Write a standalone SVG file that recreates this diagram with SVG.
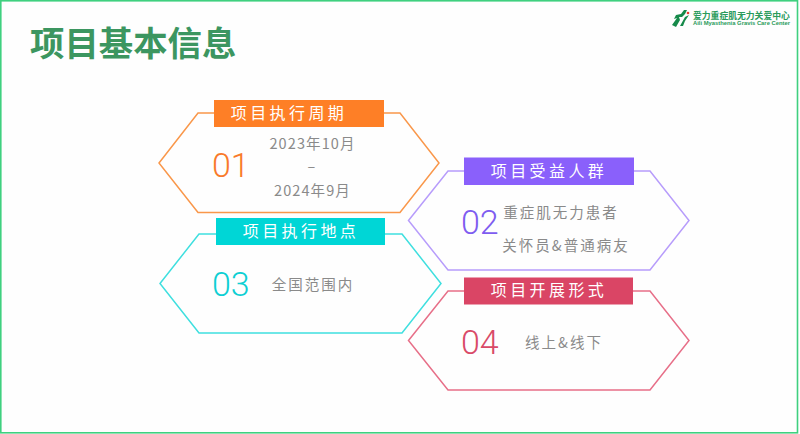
<svg xmlns="http://www.w3.org/2000/svg" width="800" height="434" viewBox="0 0 800 434">
<style>
text{font-family:"Noto Sans CJK SC","Noto Sans",sans-serif}
.hex{fill:none;stroke-width:1.5}
.lab{fill:#fff;font-size:16px;letter-spacing:3.4px;text-anchor:middle}
.num{font-family:"Roboto","Liberation Sans",sans-serif;font-size:34px;font-weight:300}
.body{fill:#8a8a8a;font-size:14.500px;text-anchor:middle;letter-spacing:2px}
.date{fill:#8a8a8a;font-size:14.500px;text-anchor:middle;letter-spacing:1.100px}
</style>
<rect width="800" height="434" fill="#fefefe"/>
<rect x="0.800" y="0.800" width="796.700" height="432" fill="none" stroke="#3fd07f" stroke-width="1.600"/>
<text id="title" x="30" y="56" font-size="34.400" font-weight="700" fill="#3c9660">项目基本信息</text>
<g id="logo">
<path d="M672 25 L677 18 L674 19 L676 15 L681 14 L684 10 L687 10 L685 14 L682 17 L679 17 L680 20 L676 27 Z" fill="#168a4a"/>
<path d="M680 26 L685 17 L689 15 L685 21 L683 26 Z" fill="#168a4a"/>
<circle cx="688" cy="13" r="1.300" fill="#e63a2e"/>
<text x="693" y="18.500" font-weight="700" fill="#2a9b5b" style="font-size:8.800px">爱力重症肌无力关爱中心</text>
<text x="693" y="25" font-weight="700" fill="#2a9b5b" textLength="97" lengthAdjust="spacingAndGlyphs" style="font-family:'Liberation Sans',sans-serif;font-size:5px">Aili Myasthenia Gravis Care Center</text>
</g>
<g id="node-01">
<polygon class="hex" stroke="#f9974a" points="159,163 198,113 400,113 439,163 400,212.500 198,212.500"/>
<rect x="214" y="100" width="170" height="27" fill="#fe7f26"/>
<text class="lab" x="289" y="119">项目执行周期</text>
<text class="num" x="212" y="177" fill="#f97a2a">01</text>
<text class="date" x="312.500" y="149">2023年10月</text>
<text class="date" x="312" y="172">–</text>
<text class="date" x="312.500" y="196">2024年9月</text>
</g>
<g id="node-02">
<polygon class="hex" stroke="#b79cfb" points="408.500,220.500 448,171 650,171 689,220.500 650,270 448,270"/>
<rect x="464" y="157.500" width="170" height="27.500" fill="#8a60fb"/>
<text class="lab" x="549" y="176.500">项目受益人群</text>
<text class="num" x="461" y="234" fill="#7e5cf0">02</text>
<text class="body" x="561" y="218">重症肌无力患者</text>
<text class="body" x="566" y="251">关怀员&amp;普通病友</text>
</g>
<g id="node-03">
<polygon class="hex" stroke="#3fdfdf" points="160,283.500 199,234 402,234 441,283.500 402,333 199,333"/>
<rect x="216" y="218" width="169" height="27" fill="#00d6d6"/>
<text class="lab" x="301" y="236.500">项目执行地点</text>
<text class="num" x="212" y="296" fill="#0ecfd3">03</text>
<text class="body" x="313" y="290">全国范围内</text>
</g>
<g id="node-04">
<polygon class="hex" stroke="#e76f88" points="408.500,340.500 448,291 650,291 689,340.500 650,390 448,390"/>
<rect x="464" y="277.500" width="169" height="27" fill="#da4565"/>
<text class="lab" x="549" y="296">项目开展形式</text>
<text class="num" x="461" y="354" fill="#d94a68">04</text>
<text class="body" x="564" y="348">线上&amp;线下</text>
</g>
</svg>
